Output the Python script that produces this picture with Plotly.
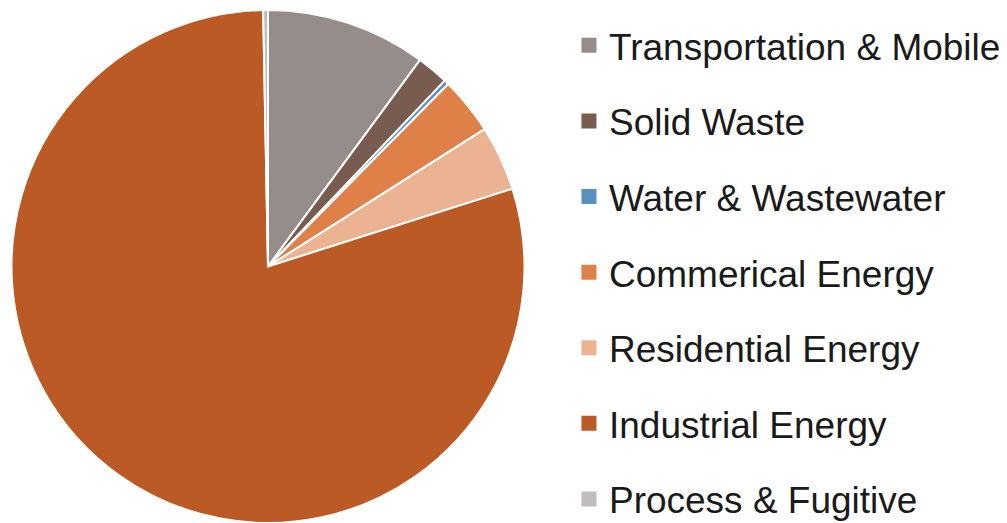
import plotly.graph_objects as go

categories = ["Transportation & Mobile", "Solid Waste", "Water & Wastewater",
              "Commerical Energy", "Residential Energy", "Industrial Energy",
              "Process & Fugitive"]
values = [10.1, 2.0, 0.3, 3.6, 4.1, 79.6, 0.3]
colors = ["#968d8a", "#795c50", "#5b8fc1", "#df8049", "#ecb393", "#bb5a24", "#c1bcbd"]

fig = go.Figure()
fig.add_trace(go.Pie(
    labels=categories, values=values, sort=False, direction="clockwise", rotation=0,
    marker=dict(colors=colors, line=dict(color="white", width=2)),
    textinfo="none", hoverinfo="label+percent", showlegend=False,
    domain=dict(x=[10/1007, 526/1007], y=[0, 1]),
))
for i, (c, col) in enumerate(zip(categories, colors)):
    fig.add_trace(go.Scatter(
        x=[None], y=[None], mode="markers", name=c, legendgroup=f"g{i}",
        marker=dict(symbol="square", size=15, color=col),
    ))

fig.update_layout(
    width=1007, height=523,
    margin=dict(l=0, r=0, t=10, b=0, autoexpand=False),
    paper_bgcolor="white", plot_bgcolor="white",
    xaxis=dict(visible=False), yaxis=dict(visible=False),
    font=dict(family="Liberation Sans, Arial, sans-serif", color="#1a1a1a"),
    legend=dict(x=0.565, y=0.9906, xanchor="left", yanchor="top",
                font=dict(size=37, color="#1a1a1a"), tracegroupgap=24.5,
                itemsizing="trace", bgcolor="rgba(0,0,0,0)", maxheight=600),
)
fig.write_html("out.html")
